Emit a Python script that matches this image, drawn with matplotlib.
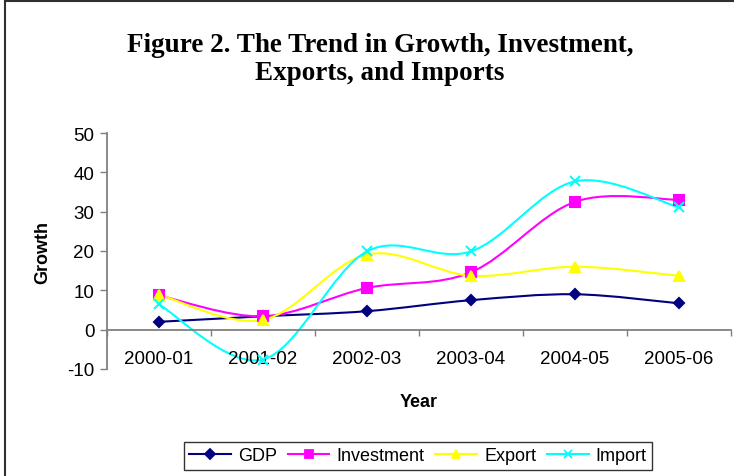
import numpy as np
import matplotlib.pyplot as plt
from matplotlib.path import Path
from matplotlib.patches import PathPatch
from matplotlib.lines import Line2D

plt.rcParams['axes.unicode_minus'] = False

years = ['2000-01', '2001-02', '2002-03', '2003-04', '2004-05', '2005-06']
gdp = [2.0, 3.4, 4.7, 7.5, 9.0, 6.7]
investment = [8.7, 3.4, 10.6, 14.6, 32.5, 33.0]
export = [8.9, 2.5, 19.1, 13.7, 16.0, 13.7]
imports = [6.4, -7.6, 19.9, 19.9, 37.7, 31.1]


def smooth_path(x, y):
    # curva tipo Excel (bezier con tangentes catmull-rom)
    p = np.column_stack([x, y]).astype(float)
    ext = np.vstack([p[0], p, p[-1]])
    verts = [p[0]]
    codes = [Path.MOVETO]
    for i in range(len(p) - 1):
        c1 = ext[i + 1] + (ext[i + 2] - ext[i]) / 6
        c2 = ext[i + 2] - (ext[i + 3] - ext[i + 1]) / 6
        verts += [c1, c2, ext[i + 2]]
        codes += [Path.CURVE4] * 3
    return Path(verts, codes)


fig = plt.figure(figsize=(7.34, 4.77), dpi=100)
ax = fig.add_axes([107 / 734, 1 - 370 / 477, 624 / 734, 236 / 477])

x = np.arange(len(years))
series = [
    ('GDP', gdp, '#000080', 'D', 5.5),
    ('Investment', investment, '#FF00FF', 's', 6.5),
    ('Export', export, '#FFFF00', '^', 7.5),
    ('Import', imports, '#00FFFF', 'x', 7.5),
]
handles = []
for nombre, vals, col, mk, ms in series:
    ax.add_patch(PathPatch(smooth_path(x, vals), facecolor='none', edgecolor=col, lw=1.5))
    ax.plot(x, vals, linestyle='none', marker=mk, color=col, markersize=ms, mew=1.5)
    handles.append(Line2D([], [], color=col, marker=mk, markersize=ms * 0.85, mew=1.3, lw=1.5, label=nombre))

ax.set_xlim(-0.5, 5.5)
ax.set_ylim(-10, 50)
ax.set_yticks(range(-10, 51, 10))
ax.set_xticks(x)
ax.set_xticklabels(years)
ax.set_xticks(np.arange(-0.5, 5.6, 1), minor=True)
ax.tick_params(axis='x', which='major', length=0, pad=15, labelsize=13.5)
ax.tick_params(axis='x', which='minor', length=4, width=1, color='#808080', direction='out')
ax.tick_params(axis='y', length=5, width=1, color='#808080', labelsize=13.5, pad=4)
for s in ['top', 'right']:
    ax.spines[s].set_visible(False)
ax.spines['bottom'].set_position(('data', 0))
ax.spines['bottom'].set_color('#808080')
ax.spines['left'].set_color('#808080')
ax.spines['bottom'].set_linewidth(1.3)
ax.spines['left'].set_linewidth(1.3)

fig.text(380 / 734, 1 - 46 / 477, 'Figure 2. The Trend in Growth, Investment,',
         family='Liberation Serif', weight='bold', fontsize=19.5, ha='center', va='center')
fig.text(380 / 734, 1 - 74 / 477, 'Exports, and Imports',
         family='Liberation Serif', weight='bold', fontsize=19.5, ha='center', va='center')
fig.text(43 / 734, 1 - 252 / 477, 'Growth', rotation=90, weight='bold', fontsize=13,
         family='Liberation Sans', ha='center', va='center')
fig.text(419 / 734, 1 - 403 / 477, 'Year', weight='bold', fontsize=13,
         family='Liberation Sans', ha='center', va='center')

for lab in ax.get_xticklabels() + ax.get_yticklabels():
    lab.set_family('Liberation Sans')

leg = fig.legend(handles=handles, ncol=4, loc='center', bbox_to_anchor=(418 / 734, 1 - 457 / 477),
                 frameon=True, fancybox=False, edgecolor='black', prop={'family': 'Liberation Sans', 'size': 13},
                 handlelength=2.3, columnspacing=0.6, handletextpad=0.4, borderpad=0.3, borderaxespad=0)
leg.get_frame().set_linewidth(1.0)

# marco de la figura
fig.add_artist(Line2D([5 / 734, 5 / 734], [0, 1 - 2 / 477], color='#303030', lw=1.5, transform=fig.transFigure))
fig.add_artist(Line2D([5 / 734, 1], [1 - 2 / 477, 1 - 2 / 477], color='#303030', lw=1.5, transform=fig.transFigure))

fig.savefig('out.png', dpi=100)
